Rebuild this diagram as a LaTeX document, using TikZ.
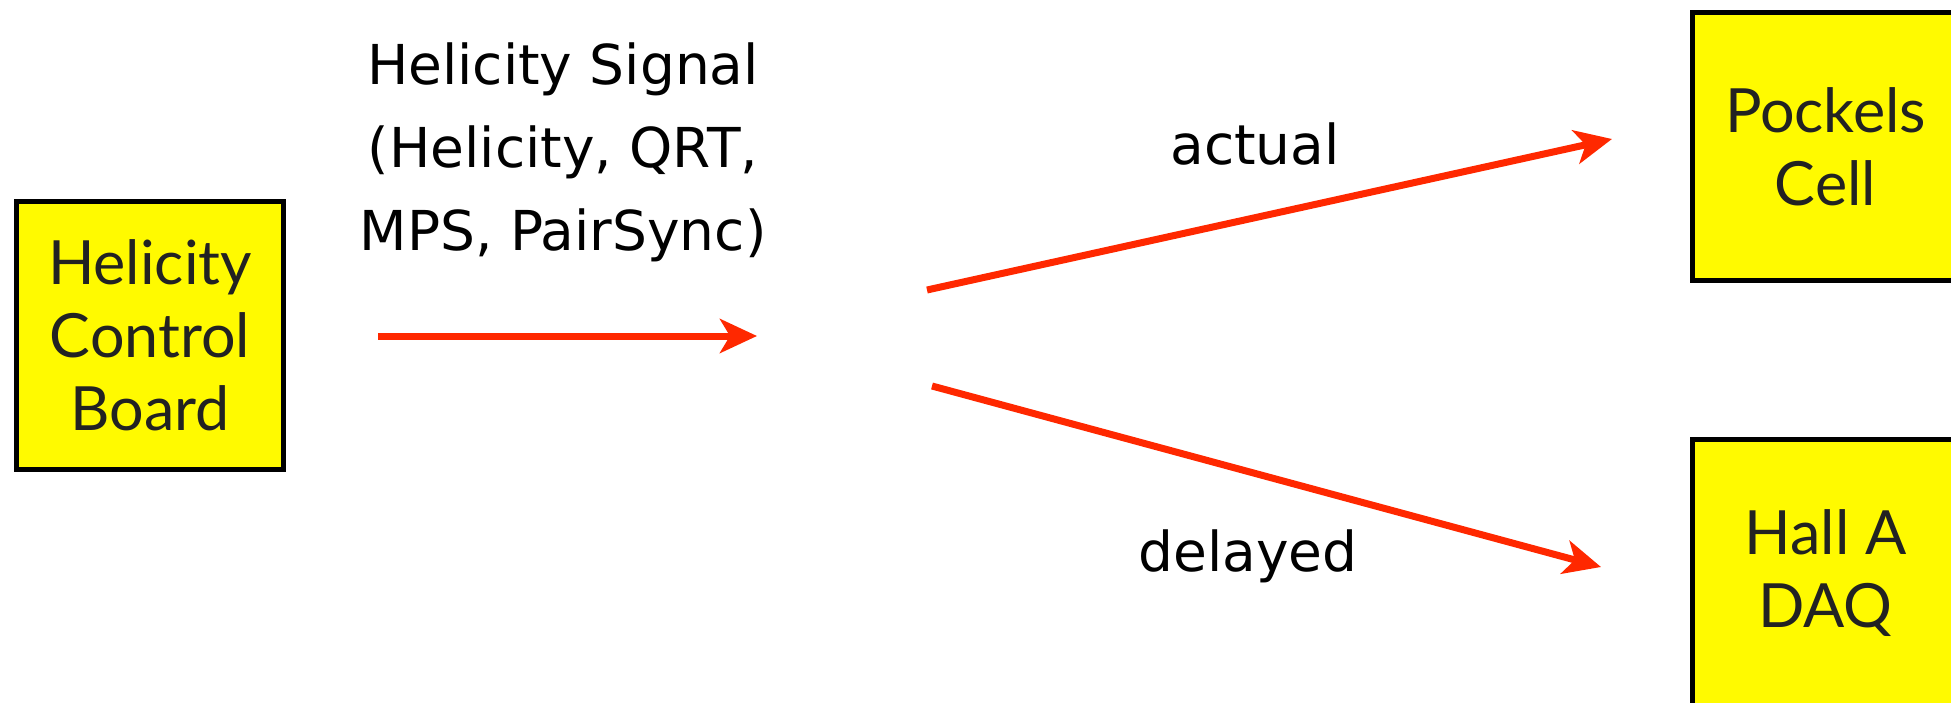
\documentclass[tikz,border=0pt]{standalone}
\usepackage{fontspec}
\setmainfont{DejaVu Sans}
\newfontfamily\boxfont{Lato}
\usetikzlibrary{arrows.meta}
\definecolor{sigred}{RGB}{255,40,0}
\definecolor{boxyellow}{RGB}{255,250,0}
\definecolor{boxtext}{RGB}{34,34,34}
\begin{document}
\begin{tikzpicture}[x=1pt,y=-1pt,
  unitbox/.style={draw=black, line width=5pt, fill=boxyellow,
    minimum width=267pt, minimum height=268pt, inner sep=0pt,
    align=center, text=boxtext, font=\boxfont\fontsize{61}{73}\selectfont},
  sig/.style={draw=sigred, line width=7pt,
    -{Stealth[length=37pt,width=34pt,inset=10pt]}},
  lbl/.style={inner sep=0pt, align=center, text=black,
    font=\fontsize{55}{83}\selectfont}]
\useasboundingbox (0,0) rectangle (1951,703);
\clip (0,0) rectangle (1951,703);
\node[unitbox] (hcb) at (150,335.5) {Helicity\\Control\\Board};
\node[unitbox] (pc) at (1825.5,146.5) {Pockels\\Cell};
\node[unitbox] (daq) at (1825.5,573.5) {Hall A\\DAQ};
\node[lbl, anchor=north] (sigtxt) at (563,43) {Helicity Signal\\(Helicity, QRT,\\MPS, PairSync)};
\node[lbl, anchor=base] (act) at (1255,165) {actual};
\node[lbl, anchor=base] (del) at (1248,571) {delayed};
\coordinate (s0) at (378,336);
\coordinate (s1) at (757,336);
\coordinate (a0) at (927,290);
\coordinate (a1) at (1612,139);
\coordinate (d0) at (932,386);
\coordinate (d1) at (1601,567);
\draw[sig] (s0) -- (s1);
\draw[sig] (a0) -- (a1);
\draw[sig] (d0) -- (d1);
\end{tikzpicture}
\end{document}
